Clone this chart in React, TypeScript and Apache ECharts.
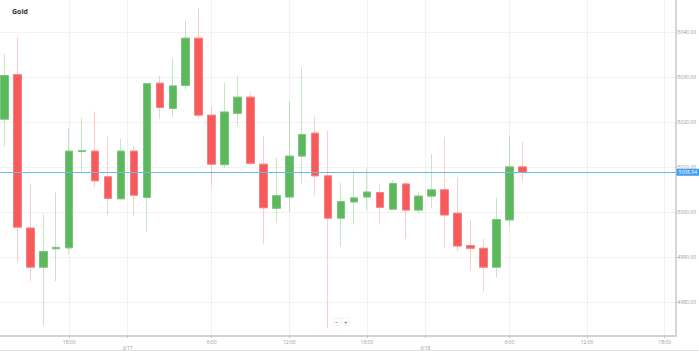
import React, { useEffect, useRef } from "react";
import * as echarts from "echarts";

// Candle data (hourly, ordinal index positions)
const opens = [5020.7, 5030.6, 4996.5, 4987.8, 4991.9, 4992.1, 5013.5, 5013.6, 5007.9, 5003.0, 5013.6, 5003.3, 5028.7, 5023.1, 5028.2, 5038.7, 5021.6, 5010.6, 5022.0, 5025.6, 5010.7, 5000.9, 5003.4, 5012.5, 5017.6, 5008.1, 4998.7, 5002.3, 5003.4, 5004.4, 5000.7, 5006.3, 5000.5, 5003.6, 5005.0, 4999.8, 4992.6, 4992.0, 4987.8, 4998.3, 5010.1];
const closes = [5030.4, 4996.7, 4987.8, 4991.3, 4992.2, 5013.6, 5013.7, 5007.0, 5003.1, 5013.6, 5003.8, 5028.6, 5023.3, 5028.1, 5038.7, 5021.6, 5010.7, 5022.3, 5025.6, 5010.9, 5001.0, 5003.7, 5012.5, 5017.3, 5008.1, 4998.7, 5002.4, 5003.2, 5004.5, 5001.1, 5006.4, 5000.5, 5003.6, 5005.0, 4999.4, 4992.5, 4992.0, 4987.8, 4998.4, 5010.1, 5008.9];
const lows = [5014.7, 4988.8, 4984.7, 4974.8, 4984.7, 4990.7, 5008.9, 5005.6, 4999.4, 5002.9, 4999.2, 4995.7, 5020.7, 5021.2, 5027.2, 5020.9, 5006.1, 5009.8, 5019.2, 5010.8, 4992.9, 4997.7, 5000.1, 5006.4, 5003.8, 4974.2, 4992.4, 4997.3, 5000.5, 4997.3, 5000.7, 4994.1, 4999.7, 5001.0, 4992.0, 4991.4, 4987.0, 4982.4, 4985.5, 4997.0, 5007.0];
const highs = [5035.2, 5038.9, 5006.4, 4999.6, 5004.4, 5018.7, 5021.0, 5022.4, 5017.0, 5016.3, 5014.9, 5028.7, 5030.3, 5034.2, 5042.6, 5045.4, 5023.5, 5028.8, 5030.3, 5026.6, 5017.0, 5012.1, 5024.7, 5032.2, 5021.3, 5018.2, 5006.6, 5009.4, 5009.8, 5006.4, 5007.2, 5006.6, 5004.5, 5013.0, 5016.8, 5007.7, 4998.3, 4994.1, 5003.2, 5017.1, 5015.6];

// X tick positions (in candle index units) and labels
const xTickPositions = [5, 9.5, 16, 22, 28, 32.5, 39, 45, 51];
const xTickLabels = ["18:00", "\n3/17", "6:00", "12:00", "18:00", "\n3/18", "6:00", "12:00", "18:00"];

// Y tick values
const yTicks = [4980, 4990, 5000, 5010, 5020, 5030, 5040];

const lastPrice = 5008.9;
const lastPriceLabel = "5008.94";

const GREEN = "#5cb85c";
const RED = "#f75a5a";
const GREEN_WICK = "rgba(92,184,92,0.35)";
const RED_WICK = "rgba(247,90,90,0.3)";

export default function App() {
  const ref = useRef<HTMLDivElement>(null);

  useEffect(() => {
    document.body.style.margin = "0";
    if (!ref.current) return;
    const chart = echarts.init(ref.current, undefined, { renderer: "svg" });

    const full = opens.map((o, i) => [i, o, closes[i], lows[i], highs[i]]);
    const bodies = opens.map((o, i) => [i, o, closes[i], Math.min(o, closes[i]), Math.max(o, closes[i])]);

    const option: any = {
      animation: false,
      backgroundColor: "#ffffff",
      title: {
        text: "Gold",
        left: 7,
        top: 3,
        textStyle: { fontSize: 7, fontWeight: "bold", color: "#333", fontFamily: "Open Sans" },
      },
      grid: { left: 0, right: 17, top: 0, bottom: 15 },
      xAxis: {
        type: "value",
        min: -0.344,
        max: 51.836,
        axisLine: { show: true, onZero: false, lineStyle: { color: "#c4c4c4", width: 1.5 } },
        axisTick: { show: true, length: 2, customValues: xTickPositions, lineStyle: { color: "#c4c4c4" } },
        axisLabel: {
          customValues: xTickPositions,
          fontSize: 5,
          color: "#999",
          margin: 3,
          lineHeight: 6,
          fontFamily: "Open Sans",
          formatter: (v: number) => {
            const idx = xTickPositions.indexOf(v);
            return idx >= 0 ? xTickLabels[idx] : "";
          },
        },
        splitLine: { show: true, lineStyle: { color: "#f0f0f0", width: 1 } },
      },
      yAxis: {
        type: "value",
        position: "right",
        min: 4972.5,
        max: 5047.2,
        axisLine: { show: true, onZero: false, lineStyle: { color: "#c8c8c8", width: 1.5 } },
        axisTick: { show: true, length: 2, customValues: yTicks, lineStyle: { color: "#c8c8c8" } },
        axisLabel: {
          customValues: yTicks,
          fontSize: 5,
          color: "#999",
          margin: 2,
          fontFamily: "Open Sans",
          formatter: (v: number) => v.toFixed(2),
        },
        splitLine: { show: true, lineStyle: { color: "#f2f2f2", width: 1 } },
      },
      series: [
        {
          type: "candlestick",
          name: "wicks",
          encode: { x: 0, y: [1, 2, 3, 4] },
          data: full,
          barWidth: 8,
          silent: true,
          itemStyle: {
            color: GREEN_WICK,
            color0: RED_WICK,
            borderColor: GREEN_WICK,
            borderColor0: RED_WICK,
            borderWidth: 1,
          },
        },
        {
          type: "candlestick",
          name: "bodies",
          encode: { x: 0, y: [1, 2, 3, 4] },
          data: bodies,
          barWidth: 8,
          silent: true,
          itemStyle: {
            color: GREEN,
            color0: RED,
            borderColor: "#7cc67c",
            borderColor0: "#f98080",
            borderWidth: 1,
          },
          markLine: {
            silent: true,
            symbol: "none",
            animation: false,
            lineStyle: { color: "#6ab8f2", width: 1, type: "solid" },
            label: {
              show: true,
              position: "end",
              distance: 1,
              formatter: lastPriceLabel,
              backgroundColor: "#3d9df0",
              color: "#fff",
              fontSize: 5,
              padding: [1, 2],
              fontFamily: "Open Sans",
            },
            data: [{ yAxis: lastPrice }],
          },
        },
      ],
      graphic: [
        {
          type: "line",
          shape: { x1: 0, y1: 350.5, x2: 699, y2: 350.5 },
          style: { stroke: "#e0e0e0", lineWidth: 1 },
        },
        {
          type: "group",
          left: 333,
          top: 318,
          children: [
            { type: "rect", shape: { x: 0, y: 0, width: 7, height: 7 }, style: { fill: "#fff", stroke: "#e2e2e2", lineWidth: 0.5 } },
            { type: "text", x: 3.5, y: 3.5, style: { text: "−", fontSize: 6, fill: "#555", align: "center", verticalAlign: "middle" } },
            { type: "rect", shape: { x: 9, y: 0, width: 7, height: 7 }, style: { fill: "#fff", stroke: "#e2e2e2", lineWidth: 0.5 } },
            { type: "text", x: 12.5, y: 3.5, style: { text: "+", fontSize: 6, fill: "#555", align: "center", verticalAlign: "middle" } },
          ],
        },
      ],
    };

    chart.setOption(option);
    return () => {
      chart.dispose();
    };
  }, []);

  return <div ref={ref} style={{ width: 699, height: 351 }} />;
}
